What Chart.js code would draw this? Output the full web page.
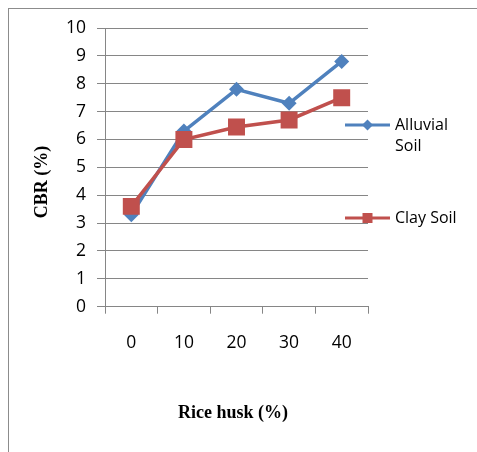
<!DOCTYPE html>
<html>
<head>
<meta charset="utf-8">
<script src="https://cdn.jsdelivr.net/npm/chart.js@4/dist/chart.umd.min.js"></script>
<style>
  html, body { margin: 0; padding: 0; background: #fff; }
  canvas { display: block; }
</style>
</head>
<body>
<canvas id="cbr" width="477" height="452"></canvas>
<script>
// Rice husk content (%) on the x axis
const riceHusk = ['0', '10', '20', '30', '40'];
// CBR (%) for each soil
const alluvialSoil = [3.3, 6.3, 7.8, 7.3, 8.8];
const claySoil = [3.6, 6.0, 6.45, 6.7, 7.5];
// y axis range
const yTicksMin = 0;
const yTicksMax = 10;

const BLUE = '#4F81BD';
const RED = '#C0504D';
const GRID = '#868686';
const LABEL_FONT = '"Open Sans", sans-serif';
const TITLE_FONT = '"Liberation Serif", "Times New Roman", serif';

// outer frame, axis titles and the side legend
const decorations = {
  id: 'decorations',
  beforeDraw(chart) {
    const ctx = chart.ctx;
    ctx.save();
    ctx.fillStyle = '#fff';
    ctx.fillRect(0, 0, chart.width, chart.height);
    ctx.strokeStyle = '#8c8c8c';
    ctx.lineWidth = 1;
    ctx.strokeRect(8.5, 8.5, chart.width + 10, chart.height + 10);
    ctx.restore();
  },
  afterDraw(chart) {
    const ctx = chart.ctx;
    ctx.save();
    ctx.fillStyle = '#000';
    ctx.font = 'bold 18px ' + TITLE_FONT;
    ctx.textAlign = 'center';
    ctx.textBaseline = 'middle';
    ctx.fillText('Rice husk (%)', 233, 413);
    ctx.save();
    ctx.translate(42, 182);
    ctx.rotate(-Math.PI / 2);
    ctx.fillText('CBR (%)', 0, 0);
    ctx.restore();

    // legend entries: line sample with marker, then the label
    const entries = [
      { ds: chart.data.datasets[0], y: 125, lines: ['Alluvial', 'Soil'] },
      { ds: chart.data.datasets[1], y: 218, lines: ['Clay Soil'] }
    ];
    entries.forEach(e => {
      const x0 = 345, x1 = 390, xm = (x0 + x1) / 2;
      ctx.strokeStyle = e.ds.borderColor;
      ctx.lineWidth = 3;
      ctx.beginPath();
      ctx.moveTo(x0, e.y);
      ctx.lineTo(x1, e.y);
      ctx.stroke();
      ctx.fillStyle = e.ds.backgroundColor;
      ctx.beginPath();
      if (e.ds.pointStyle === 'rectRot') {
        const r = 5.5;
        ctx.moveTo(xm, e.y - r);
        ctx.lineTo(xm + r, e.y);
        ctx.lineTo(xm, e.y + r);
        ctx.lineTo(xm - r, e.y);
        ctx.closePath();
      } else {
        const h = 5;
        ctx.rect(xm - h, e.y - h, 2 * h, 2 * h);
      }
      ctx.fill();
      ctx.fillStyle = '#000';
      ctx.font = '16px ' + LABEL_FONT;
      ctx.textAlign = 'left';
      ctx.textBaseline = 'middle';
      e.lines.forEach((t, i) => ctx.fillText(t, 395, e.y + i * 21));
    });
    ctx.restore();
  }
};

new Chart(document.getElementById('cbr'), {
  type: 'line',
  data: {
    labels: riceHusk,
    datasets: [
      {
        label: 'Alluvial Soil',
        data: alluvialSoil,
        borderColor: BLUE,
        backgroundColor: BLUE,
        borderWidth: 3.5,
        pointStyle: 'rectRot',
        pointRadius: 7.5,
        pointBorderWidth: 0,
        tension: 0,
        order: 1
      },
      {
        label: 'Clay Soil',
        data: claySoil,
        borderColor: RED,
        backgroundColor: RED,
        borderWidth: 3.5,
        pointStyle: 'rect',
        pointRadius: 12,
        pointBorderWidth: 0,
        tension: 0,
        order: 0
      }
    ]
  },
  options: {
    responsive: false,
    animation: false,
    devicePixelRatio: 1,
    layout: { padding: { left: 0, top: 28, right: 109, bottom: 0 } },
    plugins: { legend: { display: false }, tooltip: { enabled: false } },
    scales: {
      x: {
        type: 'category',
        offset: true,
        afterFit(scale) { scale.height = 145.3; },
        grid: {
          offset: true,
          drawOnChartArea: false,
          drawTicks: true,
          tickLength: 7,
          color: GRID,
          lineWidth: 1
        },
        border: { display: true, color: GRID, width: 1 },
        ticks: {
          color: '#000',
          font: { family: LABEL_FONT, size: 17.5 },
          padding: 19,
          maxRotation: 0
        }
      },
      y: {
        min: yTicksMin,
        max: yTicksMax,
        afterFit(scale) { scale.width = 105; },
        grid: {
          color: GRID,
          lineWidth: 1,
          drawTicks: true,
          tickLength: 8
        },
        border: { display: true, color: GRID, width: 1 },
        ticks: {
          stepSize: 1,
          color: '#000',
          font: { family: LABEL_FONT, size: 17.5 },
          padding: 11
        }
      }
    }
  },
  plugins: [decorations]
});
</script>
</body>
</html>
